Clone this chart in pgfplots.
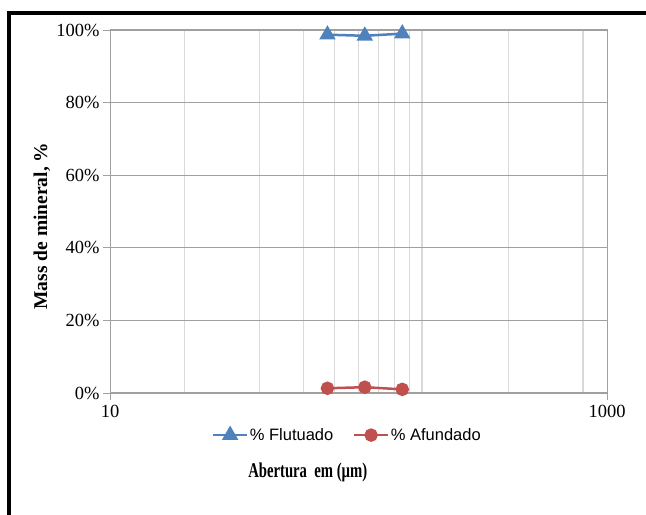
\documentclass[border=0pt]{standalone}
\usepackage{fontspec}
\setmainfont{Liberation Serif}
\newfontfamily\arial{Liberation Sans}
\newfontfamily\narrowserif[FakeStretch=0.7]{Liberation Serif}
\usepackage{pgfplots}
\pgfplotsset{compat=1.18}

\definecolor{exblue}{RGB}{79,129,189}
\definecolor{exred}{RGB}{192,80,77}
\definecolor{gridh}{RGB}{160,160,160}
\definecolor{gridv}{RGB}{217,217,217}

\begin{document}
\begin{tikzpicture}[x=1bp,y=1bp]
\path[use as bounding box] (0,0) rectangle (646,515);
% frame of the page
\draw[line width=4bp,black] (9,0) -- (9,502) -- (646,502);

\begin{axis}[
    at={(110bp,122bp)}, anchor=south west,
    scale only axis, width=497bp, height=363bp,
    xmode=log, xmin=10, xmax=1000,
    ymin=0, ymax=100,
    xtick={10,1000}, xticklabels={10,1000},
    minor xtick={20,40,60,80,100,120,140,160,180,400,800},
    ytick={0,20,40,60,80,100},
    yticklabel={\pgfmathprintnumber{\tick}\%},
    /pgf/number format/assume math mode=true,
    tick label style={font=\fontsize{18.5bp}{20bp}\selectfont},
    xticklabel style={yshift=-2bp},
    grid=both,
    major grid style={draw=gridh, line width=0.9bp},
    minor grid style={draw=gridv, line width=1.2bp},
    x tick style={draw=gridh, line width=0.9bp},
    y tick style={draw=gridh, line width=0.9bp},
    tick align=outside, major tick length=7bp, minor tick length=0bp,
    xtick pos=bottom, ytick pos=left,
    axis line style={draw=gridh, line width=1bp},
    xlabel={\fontsize{21bp}{23bp}\narrowserif\bfseries Abertura \ em (µm)},
    xlabel style={at={(axis description cs:0.398,-0.22)}, anchor=center},
    ylabel={\bfseries Mass de mineral, \%},
    ylabel style={at={(axis description cs:-0.137,0.46)}, anchor=center, font=\fontsize{19.5bp}{21bp}\selectfont},
    legend style={at={(axis description cs:0.477,-0.116)}, anchor=center, draw=none, fill=none,
        font=\arial\fontsize{16.5bp}{18bp}\selectfont, column sep=0bp,
        nodes={inner xsep=1.5bp},
        /tikz/every even column/.append style={column sep=18bp}},
    legend columns=2,
    legend image code/.code={
        \draw[#1] (0bp,0bp) -- (34bp,0bp);
        \draw[#1, mark repeat=1] plot coordinates {(17bp,0bp)};
    },
]
\addplot[exblue, line width=2.5bp, mark=triangle*, mark size=7bp, mark options={solid}]
    coordinates {(75,98.7) (106,98.4) (150,99.0)};
\addlegendentry{\% Flutuado}
\addplot[exred, line width=2.5bp, mark=*, mark size=5.5bp, mark options={solid}]
    coordinates {(75,1.3) (106,1.6) (150,1.0)};
\addlegendentry{\% Afundado}
\end{axis}
\end{tikzpicture}
\end{document}
